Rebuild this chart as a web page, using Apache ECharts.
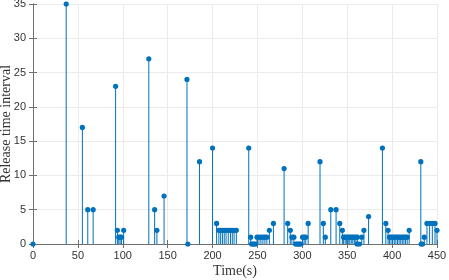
<!DOCTYPE html>
<html><head><meta charset="utf-8">
<script src="https://cdn.jsdelivr.net/npm/echarts@6/dist/echarts.min.js"></script>
<style>html,body{margin:0;padding:0;background:#fff}#c{width:449px;height:280px}</style>
</head><body><div id="c"></div>
<script>
// Release times (s)
const times = [
  0, 37, 55, 61, 67,
  92, 94, 95.5, 97, 98.5, 101,
  129, 135.5, 138, 146,
  171.5, 172.5, 185.5,
  200, 204.5, 207, 209, 211, 213, 215, 217.5, 220, 222, 224, 226.5,
  240.3, 242.5, 243.5, 245, 246.5, 248, 249.5, 251.7, 253.9, 256.1, 258.3, 260.5, 263.3, 267.8,
  279.7, 283.7, 286.6, 288.4, 290.6, 292.5, 294, 295.5, 297, 298.5, 300.3, 302, 303.8, 306.5,
  319.7, 323.4, 325.6, 331.7, 337.6, 341.7, 344.6,
  346, 347.7, 349.4, 351.1, 352.8, 354.5, 356.2, 357.9, 359.6, 361.3, 361, 363.5, 366.2, 368.6, 373.8,
  389.2, 393, 395.5, 397, 398.8, 400.6, 402.4, 404.2, 406, 407.8, 409.6, 411.4, 413.2, 415, 416.8, 419,
  432, 432.4, 433.9, 435.8, 438.8, 441.8, 444.8, 447.8, 450
];
// Release time interval values
const intervals = [
  0, 35, 17, 5, 5,
  23, 2, 1, 1, 1, 2,
  27, 5, 2, 7,
  24, 0, 12,
  14, 3, 2, 2, 2, 2, 2, 2, 2, 2, 2, 2,
  14, 1, 0, 0, 0, 0, 1, 1, 1, 1, 1, 1, 2, 3,
  11, 3, 2, 1, 1, 0, 0, 0, 0, 0, 1, 1, 1, 3,
  12, 3, 1, 5, 5, 3, 2,
  1, 1, 1, 1, 1, 1, 1, 1, 1, 1, 0, 0, 1, 2, 4,
  14, 3, 2, 1, 1, 1, 1, 1, 1, 1, 1, 1, 1, 1, 1, 2,
  12, 0, 0, 1, 3, 3, 3, 3, 2
];
const xRange = [0, 450], xStep = 50;
const yRange = [0, 35], yStep = 5;
const xTitle = 'Time(s)';
const yTitle = 'Release time interval';

const data = times.map((t, i) => [t, intervals[i]]);
const axisColor = '#6f6f6f';
const gridColor = '#ebebeb';
const labelStyle = {color: '#333', fontSize: 11, fontFamily: 'Liberation Sans, Arial, sans-serif'};
const titleStyle = {color: '#333', fontSize: 14, fontFamily: 'Liberation Serif, Times New Roman, serif'};

const chart = echarts.init(document.getElementById('c'), null, {renderer: 'canvas'});
chart.setOption({
  animation: false,
  backgroundColor: '#fff',
  grid: {left: 33, right: 12, top: 4, bottom: 36, containLabel: false, outerBoundsMode: 'none'},
  xAxis: [{
    type: 'value', min: xRange[0], max: xRange[1], interval: xStep,
    name: xTitle, nameLocation: 'middle', nameGap: 20, nameMoveOverlap: false, nameTextStyle: titleStyle,
    axisLine: {show: true, lineStyle: {color: axisColor, width: 1}},
    axisTick: {show: true, inside: true, length: 4, lineStyle: {color: axisColor}},
    axisLabel: Object.assign({margin: 6}, labelStyle),
    splitLine: {show: true, lineStyle: {color: gridColor, width: 1}}
  }, {
    type: 'value', position: 'top', min: xRange[0], max: xRange[1], interval: xStep,
    axisLine: {show: true, lineStyle: {color: axisColor, width: 1}},
    axisTick: {show: true, inside: true, length: 4, lineStyle: {color: axisColor}},
    axisLabel: {show: false}, splitLine: {show: false}
  }],
  yAxis: [{
    type: 'value', min: yRange[0], max: yRange[1], interval: yStep,
    name: yTitle, nameLocation: 'middle', nameGap: 20, nameRotate: 90, nameMoveOverlap: false, nameTextStyle: titleStyle,
    axisLine: {show: true, lineStyle: {color: axisColor, width: 1}},
    axisTick: {show: true, inside: true, length: 4, lineStyle: {color: axisColor}},
    axisLabel: Object.assign({margin: 7}, labelStyle),
    splitLine: {show: true, lineStyle: {color: gridColor, width: 1}}
  }, {
    type: 'value', position: 'right', min: yRange[0], max: yRange[1], interval: yStep,
    axisLine: {show: true, lineStyle: {color: axisColor, width: 1}},
    axisTick: {show: true, inside: true, length: 4, lineStyle: {color: axisColor}},
    axisLabel: {show: false}, splitLine: {show: false}
  }],
  series: [{
    type: 'custom',
    clip: false,
    data: data,
    renderItem: function (params, api) {
      const x = api.value(0), y = api.value(1);
      const top = api.coord([x, y]);
      const base = api.coord([x, 0]);
      return {
        type: 'group',
        children: [
          {type: 'line', shape: {x1: base[0], y1: base[1], x2: top[0], y2: top[1]},
           style: {stroke: '#0072BD', lineWidth: 1}},
          {type: 'circle', shape: {cx: top[0], cy: top[1], r: 2.6},
           style: {fill: '#0072BD'}}
        ]
      };
    }
  }]
});
</script>
</body></html>
